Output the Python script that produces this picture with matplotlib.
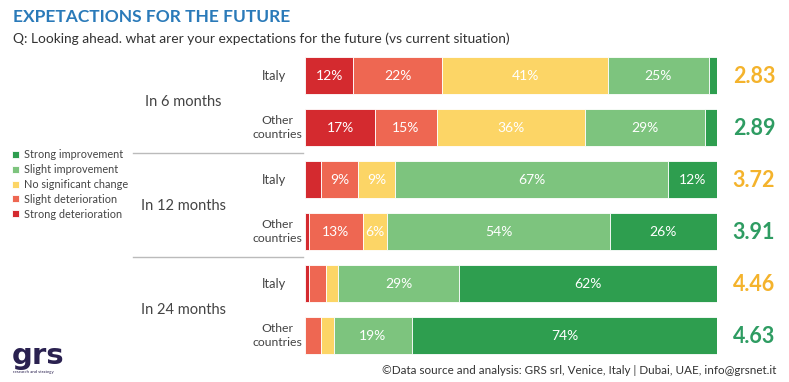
import numpy as np
import matplotlib.pyplot as plt
from matplotlib.lines import Line2D

plt.rcParams['font.family'] = ['Lato', 'DejaVu Sans']

# rows from top to bottom
paises = ["Italy", "Other\ncountries", "Italy", "Other\ncountries", "Italy", "Other\ncountries"]
periodos = ["In 6 months", "In 12 months", "In 24 months"]
categorias = ["Strong deterioration", "Slight deterioration", "No significant change",
              "Slight improvement", "Strong improvement"]

# percentages per category, one value per row
strong_det = [12, 17, 4, 1, 1, 0]
slight_det = [22, 15, 9, 13, 4, 4]
no_change = [41, 36, 9, 6, 3, 3]
slight_imp = [25, 29, 67, 54, 29, 19]
strong_imp = [2, 3, 12, 26, 62, 74]

medias = ["2.83", "2.89", "3.72", "3.91", "4.46", "4.63"]

colores = ["#D42A2F", "#EE6752", "#FCD566", "#7DC47E", "#2E9E4F"]
col_media = ["#F4B32C", "#2E9C62", "#F4B32C", "#2E9C62", "#F4B32C", "#2E9C62"]

W, H = 789, 382
fig = plt.figure(figsize=(W / 100, H / 100), dpi=100)
fig.patch.set_facecolor("white")

def fx(x):
    return x / W

def fy(y):
    return 1 - y / H

ax = fig.add_axes([fx(305), fy(361.5), 412 / W, 312 / H])
ax.set_xlim(0, 100)
ax.set_ylim(5.5, -0.5)
ax.axis("off")

datos = np.array([strong_det, slight_det, no_change, slight_imp, strong_imp], dtype=float)
totales = datos.sum(axis=0)
partes = datos / totales * 100
filas = np.arange(len(paises))

izquierda = np.zeros(len(paises))
barras = []
for k in range(len(categorias)):
    b = ax.barh(filas, partes[k], left=izquierda, height=0.73, color=colores[k],
                edgecolor="white", linewidth=0.6, label=categorias[k])
    barras.append(b)
    for i in filas:
        if datos[k, i] >= 5:
            ax.text(izquierda[i] + partes[k, i] / 2, i, "%d%%" % datos[k, i],
                    ha="center", va="center", color="white", fontsize=10)
    izquierda = izquierda + partes[k]

for i in filas:
    if "\n" in paises[i]:
        ax.text(-6.8, i, paises[i], ha="center", va="center", fontsize=8.8,
                color="#444444", multialignment="center", linespacing=1.3, clip_on=False)
    else:
        ax.text(-4.6, i, paises[i], ha="right", va="center", fontsize=9.3,
                color="#444444", clip_on=False)
    ax.text(103.8, i + 0.02, medias[i], ha="left", va="center", fontsize=15.5,
            fontweight="bold", color=col_media[i], clip_on=False)

for j, p in enumerate(periodos):
    ax.text(-29.6, 2 * j + 0.5, p, ha="center", va="center", fontsize=10.5,
            color="#444444", clip_on=False)

for yl in [153.3, 256.7]:
    fig.add_artist(Line2D([fx(133), fx(303)], [fy(yl), fy(yl)], color="#BBBBBB", lw=1))

leg = fig.legend(handles=barras[::-1], labels=categorias[::-1], loc="upper left",
                 bbox_to_anchor=(fx(8), fy(145)), frameon=False, fontsize=7.8,
                 handlelength=0.6, handleheight=0.6, handletextpad=0.5,
                 labelspacing=0.35, borderaxespad=0)
for t in leg.get_texts():
    t.set_color("#444444")

fig.text(fx(13), fy(17.5), "EXPETACTIONS FOR THE FUTURE", fontsize=12.5, fontweight="bold",
         color="#2A7AB9", va="center")
fig.text(fx(13), fy(39), "Q: Looking ahead. what arer your expectations for the future (vs current situation)",
         fontsize=9.9, color="#333333", va="center")

fig.text(fx(776), fy(370), "\u00a9Data source and analysis: GRS srl, Venice, Italy | Dubai, UAE, info@grsnet.it",
         fontsize=8.4, color="#333333", ha="right", va="center")

fig.text(fx(12), fy(356), "grs", fontsize=21, fontweight="bold", family="DejaVu Sans",
         color="#2A2150", va="center")
fig.text(fx(13), fy(372), "research and strategy", fontsize=3.2, color="#2A2150", va="center")

fig.savefig("out.png", dpi=100)
